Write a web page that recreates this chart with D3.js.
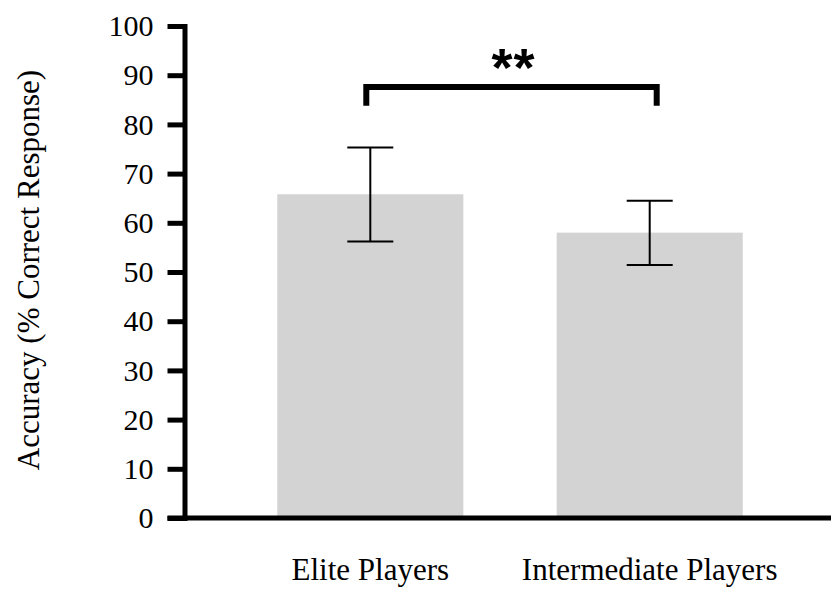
<!DOCTYPE html>
<html>
<head>
<meta charset="utf-8">
<script src="https://cdn.jsdelivr.net/npm/d3@7"></script>
<style>
  html, body { margin: 0; padding: 0; background: #fff; }
  svg { display: block; }
  .serif { font-family: "Liberation Serif", "Times New Roman", Times, serif; }
</style>
</head>
<body>
<svg id="chart" width="831" height="589"></svg>
<script>
// ---- data ----
const categories = ["Elite Players", "Intermediate Players"];
const means = [65.8, 58.0];
const errUpper = [75.3, 64.5];
const errLower = [56.2, 51.4];
const yTicks = [0, 10, 20, 30, 40, 50, 60, 70, 80, 90, 100];
const yLabel = "Accuracy (% Correct Response)";
const sigLabel = "**";
const bracketLevel = 87.6;   // y value of the significance bracket
const bracketFoot = 83.8;    // y value where its legs end

// ---- layout ----
const svg = d3.select("#chart");
const axisX = 184.5;
const y = d3.scaleLinear().domain([0, 100]).range([518, 26]);
const x = d3.scaleBand().domain(categories).range([axisX, 835.5])
  .paddingInner(0.334).paddingOuter(0.332);

// bars
svg.append("g").selectAll("rect").data(categories).join("rect")
  .attr("x", d => x(d))
  .attr("width", x.bandwidth())
  .attr("y", (d, i) => y(means[i]))
  .attr("height", (d, i) => y(0) - y(means[i]))
  .attr("fill", "#d3d3d3");

// error bars
const eb = svg.append("g").attr("stroke", "#000").attr("stroke-width", 2);
categories.forEach((c, i) => {
  const cx = x(c) + x.bandwidth() / 2;
  eb.append("line").attr("x1", cx).attr("x2", cx).attr("y1", y(errUpper[i])).attr("y2", y(errLower[i]));
  eb.append("line").attr("x1", cx - 23).attr("x2", cx + 23).attr("y1", y(errUpper[i])).attr("y2", y(errUpper[i]));
  eb.append("line").attr("x1", cx - 23).attr("x2", cx + 23).attr("y1", y(errLower[i])).attr("y2", y(errLower[i]));
});

// y axis
const yAxis = d3.axisLeft(y).tickValues(yTicks).tickSize(17).tickSizeOuter(0).tickPadding(14);
const ga = svg.append("g").attr("transform", `translate(${axisX},0)`).call(yAxis);
ga.attr("font-family", null).attr("font-size", null);
ga.select(".domain").attr("stroke", "#000").attr("stroke-width", 5).attr("stroke-linecap", "square");
ga.selectAll(".tick line").attr("stroke", "#000").attr("stroke-width", 5);
ga.selectAll(".tick text").attr("class", "serif").style("font-size", "30px").attr("fill", "#000");

// x axis line
svg.append("line")
  .attr("x1", axisX - 17).attr("x2", 831)
  .attr("y1", y(0)).attr("y2", y(0))
  .attr("stroke", "#000").attr("stroke-width", 5);

// category labels
svg.append("g").selectAll("text").data(categories).join("text")
  .attr("class", "serif")
  .attr("x", d => x(d) + x.bandwidth() / 2)
  .attr("y", 580)
  .attr("text-anchor", "middle")
  .style("font-size", "31px")
  .attr("fill", "#000")
  .text(d => d);

// y label
svg.append("text")
  .attr("class", "serif")
  .attr("transform", `translate(39,${(y(0) + y(100)) / 2 - 2}) rotate(-90)`)
  .attr("text-anchor", "middle")
  .style("font-size", "31px")
  .attr("fill", "#000")
  .text(yLabel);

// significance bracket
const bx1 = x(categories[0]) + x.bandwidth() / 2 - 4;
const bx2 = x(categories[1]) + x.bandwidth() / 2 + 7;
svg.append("path")
  .attr("d", `M${bx1},${y(bracketFoot)}V${y(bracketLevel)}H${bx2}V${y(bracketFoot)}`)
  .attr("fill", "none").attr("stroke", "#000").attr("stroke-width", 6)
  .attr("stroke-linejoin", "miter");
svg.append("text")
  .attr("x", (bx1 + bx2) / 2 + 2)
  .attr("y", 86)
  .attr("text-anchor", "middle")
  .style("font-family", "'Liberation Sans', Arial, sans-serif")
  .style("font-weight", "bold")
  .style("font-size", "54px")
  .style("letter-spacing", "1px")
  .attr("fill", "#000")
  .text(sigLabel);
</script>
</body>
</html>
